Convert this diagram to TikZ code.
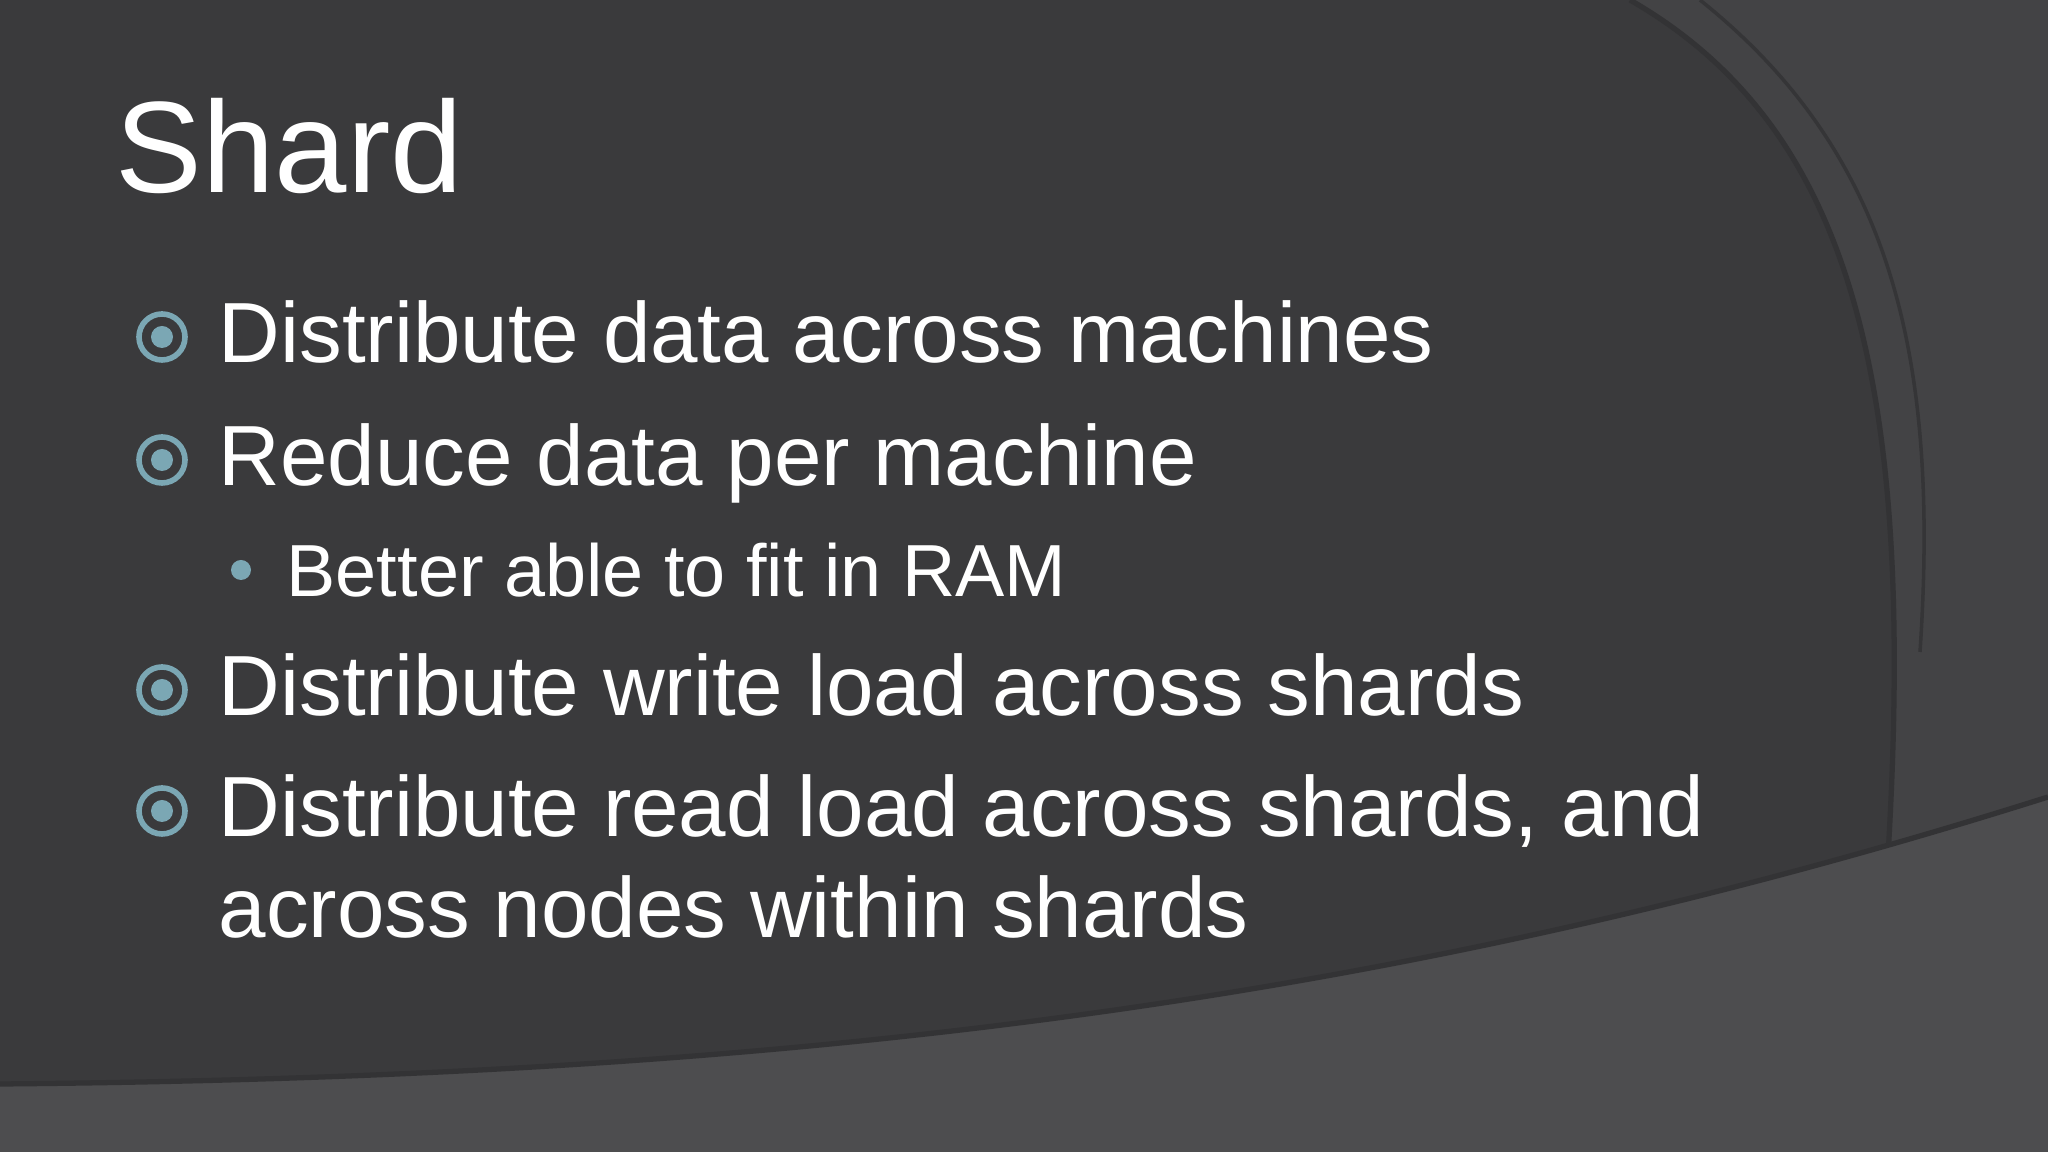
\documentclass[tikz,border=0pt]{standalone}
\usepackage{fontspec}
\setmainfont{Liberation Sans}
\definecolor{bgmain}{HTML}{3A3A3C}
\definecolor{bgright}{HTML}{434345}
\definecolor{bgbottom}{HTML}{4D4D4F}
\definecolor{edge}{HTML}{333335}
\definecolor{bul}{HTML}{7BA7B4}
\tikzset{
 title/.style={anchor=base west,text=white,font=\fontsize{37pt}{37pt}\selectfont,inner sep=0},
 item/.style={anchor=base west,text=white,font=\fontsize{24.3pt}{30pt}\selectfont,inner sep=0},
 subitem/.style={anchor=base west,text=white,font=\fontsize{21pt}{25pt}\selectfont,inner sep=0},
 ring/.style={circle,draw=bul,line width=1.6pt,minimum size=0.46cm,inner sep=0},
 dotin/.style={circle,fill=bul,minimum size=0.22cm,inner sep=0},
 subdot/.style={circle,fill=bul,minimum size=0.2cm,inner sep=0}
}
\begin{document}
\begin{tikzpicture}[x=1cm,y=1cm]
\fill[bgmain] (0,0) rectangle (20.48,11.52);
\useasboundingbox (0,0) rectangle (20.48,11.52);
% right arc region
\fill[bgright] (16.3,11.52) .. controls (18.6,10.2) and (19.2,7.5) .. (18.85,2.5) -- (20.48,2.5) -- (20.48,11.52) -- cycle;
\draw[edge,line width=1.5pt] (16.3,11.52) .. controls (18.6,10.2) and (19.2,7.5) .. (18.85,2.5);
\draw[edge!70!bgmain,line width=1pt] (17.0,11.52) .. controls (18.9,10.0) and (19.4,8.0) .. (19.2,5.0);
% bottom band
\fill[bgbottom] (0,0.68) .. controls (8,0.75) and (14,1.5) .. (20.48,3.55) -- (20.48,0) -- (0,0) -- cycle;
\draw[edge,line width=1.5pt] (0,0.68) .. controls (8,0.75) and (14,1.5) .. (20.48,3.55);
% title
\node[title] (t) at (1.15,9.59) {Shard};
% bullets
\node[item] (b1) at (2.18,7.89) {Distribute data across machines};
\node[item] (b2) at (2.18,6.66) {Reduce data per machine};
\node[subitem] (s1) at (2.86,5.55) {Better able to fit in RAM};
\node[item] (b3) at (2.18,4.36) {Distribute write load across shards};
\node[item] (b4) at (2.18,3.15) {Distribute read load across shards, and};
\node[item] (b5) at (2.18,2.14) {across nodes within shards};
\foreach \n/\y in {r1/8.15,r2/6.92,r3/4.62,r4/3.41}{
 \node[ring] (\n) at (1.62,\y) {};
 \node[dotin] at (\n.center) {};
}
\node[subdot] (sd) at (2.41,5.82) {};
\end{tikzpicture}
\end{document}
